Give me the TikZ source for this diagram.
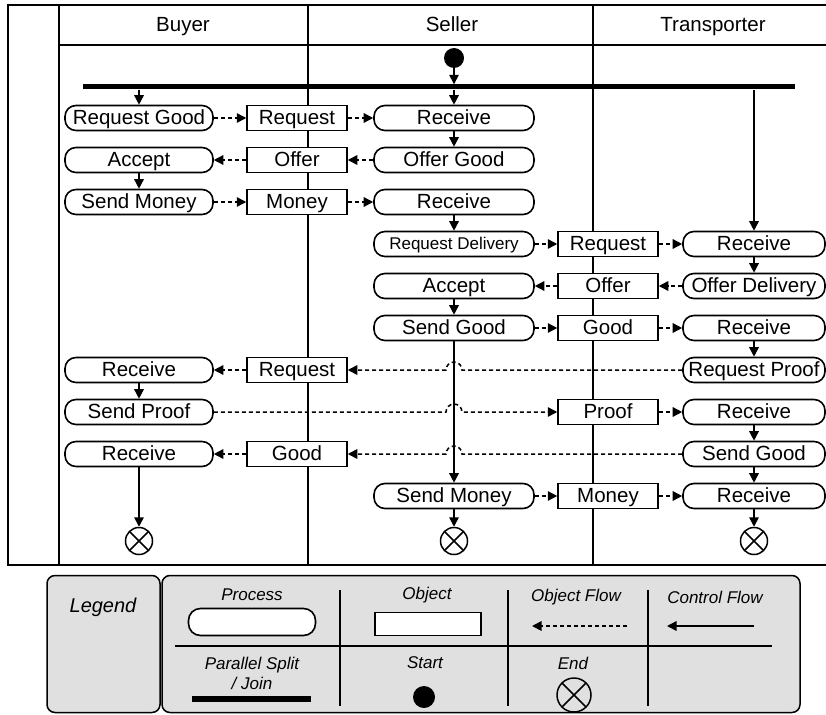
\documentclass[tikz,border=0pt]{standalone}
\usepackage{fontspec}
\setmainfont{Liberation Sans}
\usetikzlibrary{arrows.meta,positioning}
\definecolor{legfill}{RGB}{224,224,224}

\begin{document}
\begin{tikzpicture}[x=1pt, y=-1pt,
  font=\fontsize{20.5}{24}\selectfont,
  proc/.style={draw, fill=white, rounded corners=11pt, line width=1.6pt, minimum height=25pt, inner sep=0pt, text height=16pt, text depth=3pt},
  bproc/.style={proc, minimum width=148pt},
  sproc/.style={proc, minimum width=160pt},
  tproc/.style={proc, minimum width=142pt},
  obj/.style={draw, fill=white, line width=1.5pt, minimum width=100pt, minimum height=25pt, inner sep=0pt, text height=16pt, text depth=3pt},
  ctrl/.style={-{Triangle[length=9.5pt,width=9.5pt]}, line width=1.5pt},
  oflow/.style={ctrl, dash pattern=on 4pt off 3pt},
  endsym/.style={circle, draw, fill=white, line width=1.5pt, minimum size=27pt, inner sep=0pt,
    path picture={\draw[line width=1.5pt] (path picture bounding box.north west) -- (path picture bounding box.south east)
      (path picture bounding box.north east) -- (path picture bounding box.south west);}},
  legtxt/.style={font=\itshape\fontsize{17}{20}\selectfont, align=center}]
  \useasboundingbox (0,0) rectangle (826,714);

  % frame and lanes
  \draw[line width=1.5pt] (830,5) -- (8,5) -- (8,565) -- (830,565);
  \draw[line width=1.5pt] (59,5) -- (59,565);
  \draw[line width=1.5pt] (308,5) -- (308,565);
  \draw[line width=1.5pt] (593,5) -- (593,565);
  \draw[line width=1.5pt] (59,45) -- (830,45);
  \node[anchor=base] (hbuyer) at (183,32) {Buyer};
  \node[anchor=base] (hseller) at (452,32) {Seller};
  \node[anchor=base] (htrans) at (713,32) {Transporter};

  % start and split
  \node[circle, fill, minimum size=20pt, inner sep=0pt] (start) at (454,58) {};
  \node[fill, minimum width=712pt, minimum height=5pt, inner sep=0pt] (bar) at (439,87) {};

  % rows
  \node[bproc] (rgood) at (139,118) {Request Good};
  \node[obj] (oreq1) at (297,118) {Request};
  \node[sproc] (srec1) at (454,118) {Receive};

  \node[bproc] (bacc) at (139,160) {Accept};
  \node[obj] (ooff1) at (297,160) {Offer};
  \node[sproc] (soffer) at (454,160) {Offer Good};

  \node[bproc] (bmoney) at (139,202) {Send Money};
  \node[obj] (omoney1) at (297,202) {Money};
  \node[sproc] (srec2) at (454,202) {Receive};

  \node[sproc, font=\fontsize{17}{20}\selectfont, text height=14pt, text depth=3pt] (sreqdel) at (454,244) {Request Delivery};
  \node[obj] (oreq2) at (608,244) {Request};
  \node[tproc] (trec1) at (754,244) {Receive};

  \node[sproc] (sacc) at (454,286) {Accept};
  \node[obj] (ooff2) at (608,286) {Offer};
  \node[tproc] (toffer) at (754,286) {Offer Delivery};

  \node[sproc] (ssend) at (454,328) {Send Good};
  \node[obj] (ogood2) at (608,328) {Good};
  \node[tproc] (trec2) at (754,328) {Receive};

  \node[bproc] (brec1) at (139,370) {Receive};
  \node[obj] (oreq3) at (297,370) {Request};
  \node[tproc] (treqproof) at (754,370) {Request Proof};

  \node[bproc] (bproof) at (139,412) {Send Proof};
  \node[obj] (oproof) at (608,412) {Proof};
  \node[tproc] (trec3) at (754,412) {Receive};

  \node[bproc] (brec2) at (139,454) {Receive};
  \node[obj] (ogood1) at (297,454) {Good};
  \node[tproc] (tsend) at (754,454) {Send Good};

  \node[sproc] (smoney) at (454,496) {Send Money};
  \node[obj] (omoney2) at (608,496) {Money};
  \node[tproc] (trec4) at (754,496) {Receive};

  \node[endsym] (bend) at (139,541) {};
  \node[endsym] (send) at (454,541) {};
  \node[endsym] (tend) at (754,541) {};

  % control flow
  \draw[ctrl] (start) -- (start |- bar.north);
  \draw[ctrl] (rgood.north |- bar.south) -- (rgood.north);
  \draw[ctrl] (srec1.north |- bar.south) -- (srec1.north);
  \draw[ctrl] (trec1.north |- bar.south) -- (trec1.north);
  \draw[ctrl] (srec1) -- (soffer);
  \draw[ctrl] (bacc) -- (bmoney);
  \draw[ctrl] (srec2) -- (sreqdel);
  \draw[ctrl] (trec1) -- (toffer);
  \draw[ctrl] (sacc) -- (ssend);
  \draw[ctrl] (trec2) -- (treqproof);
  \draw[ctrl] (ssend) -- (smoney);
  \draw[ctrl] (brec1) -- (bproof);
  \draw[ctrl] (trec3) -- (tsend);
  \draw[ctrl] (tsend) -- (trec4);
  \draw[ctrl] (brec2) -- (bend);
  \draw[ctrl] (smoney) -- (send);
  \draw[ctrl] (trec4) -- (tend);

  % object flow
  \draw[oflow] (rgood) -- (oreq1);
  \draw[oflow] (oreq1) -- (srec1);
  \draw[oflow] (soffer) -- (ooff1);
  \draw[oflow] (ooff1) -- (bacc);
  \draw[oflow] (bmoney) -- (omoney1);
  \draw[oflow] (omoney1) -- (srec2);
  \draw[oflow] (sreqdel) -- (oreq2);
  \draw[oflow] (oreq2) -- (trec1);
  \draw[oflow] (toffer) -- (ooff2);
  \draw[oflow] (ooff2) -- (sacc);
  \draw[oflow] (ssend) -- (ogood2);
  \draw[oflow] (ogood2) -- (trec2);
  \coordinate (hop7) at (ssend.south |- treqproof.west);
  \coordinate (hop8) at (ssend.south |- bproof.east);
  \coordinate (hop9) at (ssend.south |- tsend.west);
  \draw[oflow] (treqproof.west) -- ([xshift=8pt]hop7) arc[start angle=0, end angle=180, radius=8pt] -- (oreq3.east);
  \draw[oflow] (oreq3) -- (brec1);
  \draw[oflow] (bproof.east) -- ([xshift=-8pt]hop8) arc[start angle=180, end angle=0, radius=8pt] -- (oproof.west);
  \draw[oflow] (oproof) -- (trec3);
  \draw[oflow] (tsend.west) -- ([xshift=8pt]hop9) arc[start angle=0, end angle=180, radius=8pt] -- (ogood1.east);
  \draw[oflow] (ogood1) -- (brec2);
  \draw[oflow] (smoney) -- (omoney2);
  \draw[oflow] (omoney2) -- (trec4);

  % legend
  \node[draw, fill=legfill, line width=1.5pt, rounded corners=8pt, minimum width=113pt, minimum height=137pt] (legl) at (103.5,644) {};
  \node[draw, fill=legfill, line width=1.5pt, rounded corners=8pt, minimum width=638pt, minimum height=137pt] (legr) at (481,644) {};
  \node[legtxt, font=\itshape\fontsize{20}{24}\selectfont] (legname) at (103,607) {Legend};
  \draw[line width=1.2pt] (175,646) -- (772,646);
  \draw[line width=1.2pt] (340,590) -- (340,706);
  \draw[line width=1.2pt] (508,590) -- (508,706);
  \draw[line width=1.2pt] (648,590) -- (648,706);

  \node[legtxt] (lproc) at (252,595) {Process};
  \node[draw, fill=white, rounded corners=12pt, line width=1.6pt, minimum width=127pt, minimum height=27pt] (lprocbox) at (252,622) {};
  \node[legtxt] (lobj) at (427,595) {Object};
  \node[draw, fill=white, line width=1.5pt, minimum width=106pt, minimum height=23pt] (lobjbox) at (428,624) {};
  \node[legtxt] (loflow) at (576,597) {Object Flow};
  \coordinate (lofa) at (627,626);
  \coordinate (lofb) at (532,626);
  \draw[oflow] (lofa) -- (lofb);
  \node[legtxt] (lcflow) at (715,597) {Control Flow};
  \coordinate (lcfa) at (754,626);
  \coordinate (lcfb) at (667,626);
  \draw[ctrl] (lcfa) -- (lcfb);

  \node[legtxt] (lsplit) at (252,673) {Parallel Split\\/ Join};
  \node[fill, minimum width=119pt, minimum height=6pt, inner sep=0pt] (lbar) at (251.5,699) {};
  \node[legtxt] (lstart) at (425,663) {Start};
  \node[circle, fill, minimum size=22pt, inner sep=0pt] (lstartdot) at (424,697) {};
  \node[legtxt] (lend) at (573,663) {End};
  \node[endsym, fill=none, minimum size=34pt] (lendsym) at (574,695) {};
\end{tikzpicture}
\end{document}
